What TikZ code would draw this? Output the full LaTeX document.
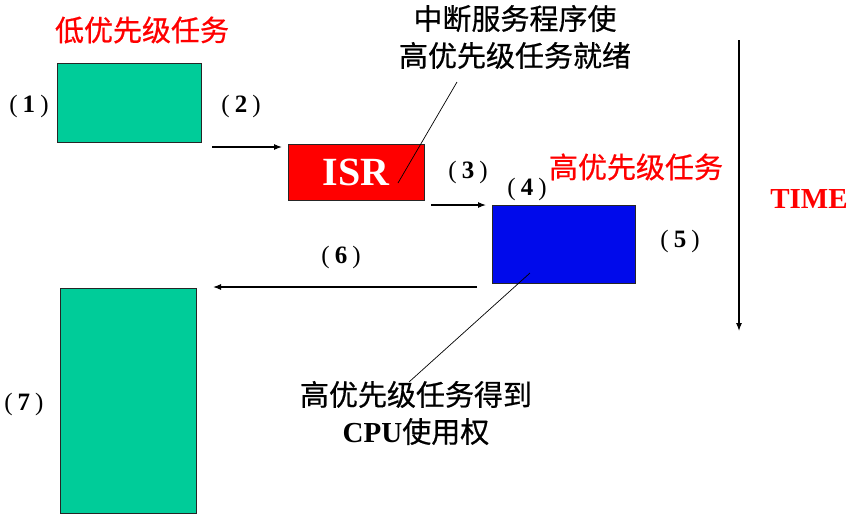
\documentclass[tikz,border=0pt]{standalone}
\usepackage{fontspec}
\setmainfont{Liberation Serif}
\newfontfamily\cjk[FakeBold=0.6]{Noto Sans CJK SC}
\usetikzlibrary{arrows.meta}
\definecolor{taskgreen}{RGB}{0,204,153}
\definecolor{isrred}{RGB}{255,0,0}
\definecolor{hiblue}{RGB}{0,10,235}
\newcommand\stepnum[1]{(\hspace{0.2em}{\bfseries #1}\hspace{0.2em})}
\tikzset{
  task/.style={draw=black!85, line width=0.8pt, minimum width=#1, inner sep=0pt},
  numlab/.style={font=\fontsize{25}{28}\selectfont, inner sep=0pt},
  redlab/.style={font=\cjk\fontsize{29}{34}\selectfont, text=isrred, inner sep=0pt},
  blacklab/.style={font=\cjk\fontsize{29}{37}\selectfont, align=center, inner sep=0pt},
  flow/.style={line width=1.1pt, -{Latex[length=8pt,width=6pt]}},
  callout/.style={line width=0.7pt}
}
\begin{document}
\begin{tikzpicture}[x=1pt,y=-1pt]
\useasboundingbox[fill=white] (0,0) rectangle (863,523);
% boxes
\node[task=144pt, minimum height=79pt, fill=taskgreen] (low1) at (129,102.5) {};
\node[task=136pt, minimum height=56pt, fill=isrred, font=\bfseries\fontsize{40}{44}\selectfont, text=white] (isr) at (356,172) {ISR};
\node[task=143pt, minimum height=78pt, fill=hiblue] (high) at (563.5,244) {};
\node[task=136pt, minimum height=225pt, fill=taskgreen] (low2) at (128,400.5) {};
% labels
\node[redlab] (lowlab) at (142,30) {低优先级任务};
\node[redlab] (highlab) at (636,167) {高优先级任务};
\node[font=\bfseries\fontsize{29}{34}\selectfont, text=isrred, inner sep=0pt] (timelab) at (809,199) {TIME};
\node[blacklab] (note1) at (515,37) {中断服务程序使\\高优先级任务就绪};
\node[blacklab] (note2) at (416,413) {高优先级任务得到\\{\rmfamily\bfseries CPU}使用权};
% step numbers
\node[numlab] (n1) at (29,106) {\stepnum{1}};
\node[numlab] (n2) at (241,106) {\stepnum{2}};
\node[numlab] (n3) at (468,172) {\stepnum{3}};
\node[numlab] (n4) at (527,189) {\stepnum{4}};
\node[numlab] (n5) at (680,241) {\stepnum{5}};
\node[numlab] (n6) at (341,257) {\stepnum{6}};
\node[numlab] (n7) at (24,404) {\stepnum{7}};
% flow arrows
\coordinate (a2s) at (212,147);
\coordinate (a2e) at (282,147);
\coordinate (a3s) at (431,205);
\coordinate (a3e) at (486,205);
\coordinate (a6s) at (477,287);
\coordinate (a6e) at (213,287);
\coordinate (ts) at (739,40);
\coordinate (te) at (739,331);
\draw[flow] (a2s) -- (a2e);
\draw[flow] (a3s) -- (a3e);
\draw[flow] (a6s) -- (a6e);
\draw[flow] (ts) -- (te);
% callout lines
\coordinate (c1a) at (398,183);
\coordinate (c1b) at (457,82);
\coordinate (c2a) at (530,273);
\coordinate (c2b) at (409,382);
\draw[callout] (c1a) -- (c1b);
\draw[callout] (c2a) -- (c2b);
\end{tikzpicture}
\end{document}
